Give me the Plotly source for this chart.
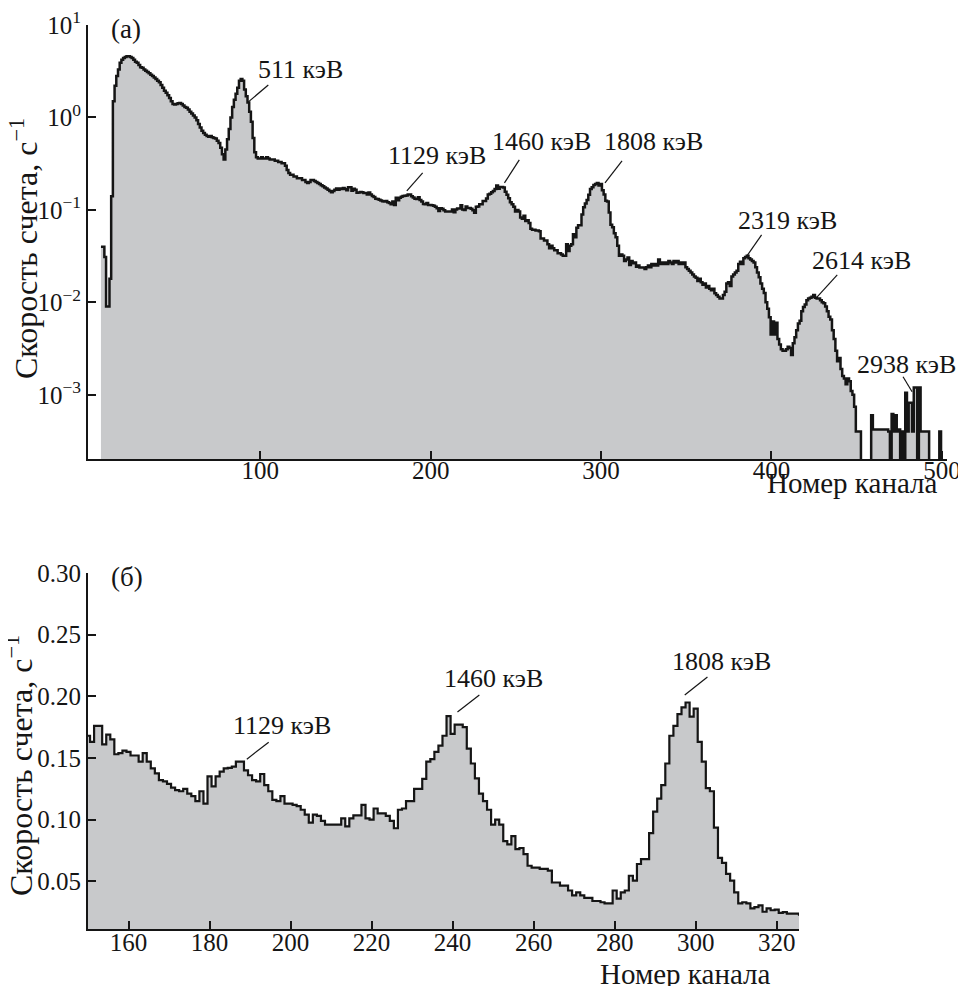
import math
import plotly.graph_objects as go

# ---------------- data (count rate, 1/s, per channel) ----------------
first_channel = 7
rate_007_099 = [
    0.040, 0.040, 0.031,                                              # 7-9
    0.009, 0.009, 0.018, 0.14, 1.5, 2.2, 2.8, 3.3, 3.9, 4.2,          # 10-19
    4.4, 4.5, 4.6, 4.6, 4.5, 4.4, 4.2, 4.0, 3.9, 3.7,                 # 20-29
    3.5, 3.45, 3.3, 3.2, 3.1, 3.0, 2.9, 2.8, 2.7, 2.6,                # 30-39
    2.5, 2.4, 2.25, 2.1, 1.95, 1.85, 1.74, 1.62, 1.5, 1.4,            # 40-49
    1.38, 1.40, 1.42, 1.43, 1.40, 1.35, 1.30, 1.27, 1.22, 1.15,       # 50-59
    1.10, 1.05, 1.0, 0.93, 0.85, 0.78, 0.72, 0.68, 0.65, 0.63,        # 60-69
    0.62, 0.63, 0.61, 0.60, 0.59, 0.56, 0.53, 0.47, 0.40, 0.35,       # 70-79
    0.45, 0.58, 0.75, 1.0, 1.3, 1.55, 1.8, 2.1, 2.5, 2.6,             # 80-89
    2.5, 2.0, 1.7, 1.45, 1.15, 0.9, 0.6, 0.42, 0.37, 0.36,            # 90-99
]
rate_100_149 = [
    0.36, 0.37, 0.36, 0.36, 0.37, 0.36, 0.35, 0.35, 0.35, 0.34,       # 100-109
    0.34, 0.33, 0.33, 0.32, 0.32, 0.30, 0.27, 0.25, 0.24, 0.24,       # 110-119
    0.23, 0.23, 0.22, 0.22, 0.22, 0.21, 0.21, 0.20, 0.195, 0.20,      # 120-129
    0.21, 0.21, 0.205, 0.20, 0.195, 0.19, 0.185, 0.18, 0.175, 0.17,   # 130-139
    0.165, 0.16, 0.155, 0.16, 0.165, 0.17, 0.165, 0.17, 0.168, 0.172, # 140-149
]
rate_150_249 = [
    0.168, 0.163, 0.176, 0.176, 0.161, 0.169, 0.165, 0.153, 0.154, 0.156,   # 150-159
    0.155, 0.152, 0.152, 0.147, 0.154, 0.147, 0.1415, 0.1375, 0.132, 0.131, # 160-169
    0.129, 0.126, 0.124, 0.123, 0.125, 0.121, 0.119, 0.115, 0.123, 0.113,   # 170-179
    0.135, 0.127, 0.135, 0.139, 0.1415, 0.142, 0.143, 0.147, 0.147, 0.140,  # 180-189
    0.136, 0.132, 0.131, 0.137, 0.128, 0.123, 0.116, 0.115, 0.119, 0.113,   # 190-199
    0.113, 0.112, 0.111, 0.108, 0.104, 0.0975, 0.104, 0.103, 0.099, 0.096,  # 200-209
    0.096, 0.096, 0.096, 0.101, 0.0945, 0.101, 0.1035, 0.1035, 0.112, 0.101,# 210-219
    0.100, 0.109, 0.105, 0.105, 0.103, 0.099, 0.093, 0.108, 0.109, 0.115,   # 220-229
    0.115, 0.125, 0.125, 0.133, 0.147, 0.149, 0.155, 0.160, 0.168, 0.184,   # 230-239
    0.1695, 0.177, 0.177, 0.175, 0.1575, 0.1455, 0.1335, 0.121, 0.115, 0.108,  # 240-249
]
rate_250_325 = [
    0.096, 0.100, 0.096, 0.0826, 0.080, 0.0866, 0.076, 0.077, 0.072, 0.0626,  # 250-259
    0.061, 0.061, 0.060, 0.060, 0.0586, 0.049, 0.049, 0.0465, 0.0465, 0.0425, # 260-269
    0.0385, 0.041, 0.0385, 0.0366, 0.0366, 0.034, 0.034, 0.033, 0.032, 0.032, # 270-279
    0.0425, 0.036, 0.041, 0.0425, 0.0545, 0.0505, 0.064, 0.068, 0.068, 0.089, # 280-289
    0.1065, 0.117, 0.128, 0.1455, 0.168, 0.176, 0.1855, 0.191, 0.195, 0.1835, # 290-299
    0.190, 0.163, 0.147, 0.1255, 0.123, 0.0935, 0.069, 0.065, 0.056, 0.0505,  # 300-309
    0.041, 0.032, 0.033, 0.032, 0.028, 0.029, 0.0305, 0.0253, 0.028, 0.0265,  # 310-319
    0.027, 0.0243, 0.025, 0.0238, 0.0238, 0.0238,                             # 320-325
]
rate_326_500 = [
    0.023, 0.024, 0.025, 0.024, 0.026, 0.025, 0.026, 0.025, 0.029, 0.026,     # 326-335
    0.027, 0.026, 0.027, 0.026, 0.028, 0.027, 0.026, 0.028, 0.027, 0.028,     # 336-345
    0.026, 0.027, 0.026, 0.027, 0.024, 0.023, 0.022, 0.021, 0.020, 0.019,     # 346-355
    0.0185, 0.017, 0.018, 0.0165, 0.0155, 0.016, 0.0145, 0.015, 0.014, 0.0135,# 356-365
    0.014, 0.0125, 0.012, 0.0115, 0.011, 0.011, 0.012, 0.013, 0.016, 0.0165,  # 366-375
    0.015, 0.019, 0.020, 0.021, 0.022, 0.026, 0.0275, 0.026, 0.030, 0.031,    # 376-385
    0.032, 0.030, 0.029, 0.028, 0.027, 0.024, 0.021, 0.0187, 0.016, 0.014,    # 386-395
    0.0126, 0.010, 0.0085, 0.0069, 0.0045, 0.0062, 0.0045, 0.0060, 0.0040, 0.0035,  # 396-405
    0.0031, 0.0030, 0.0030, 0.0031, 0.0033, 0.0032, 0.0027, 0.0036, 0.0042, 0.0050, # 406-415
    0.0059, 0.0063, 0.0080, 0.0089, 0.0095, 0.0105, 0.0110, 0.0112, 0.0115, 0.0120, # 416-425
    0.0112, 0.0110, 0.0110, 0.0105, 0.0100, 0.0098, 0.0090, 0.0080, 0.0070, 0.0065, # 426-435
    0.0050, 0.0040, 0.0030, 0.0023, 0.0025, 0.0019, 0.0016, 0.0015, 0.0013, 0.0015, # 436-445
    0.0014, 0.0011, 0.0010, 0.00074, 0.0004, 0.0004, 0.0004, 0, 0, 0,               # 446-455
    0, 0, 0, 0.0006, 0.00042, 0.00042, 0.00042, 0.00042, 0.00042, 0.00042,          # 456-465
    0.00042, 0.00042, 0.00042, 0.0004, 0, 0.00062, 0.0004, 0.0006, 0.0004, 0.00042, # 466-475
    0, 0.0004, 0, 0.00105, 0.0004, 0.00082, 0.00082, 0.0004, 0.0012, 0.0012,        # 476-485
    0, 0.0012, 0.0004, 0.0004, 0.0004, 0.0004, 0.0004, 0, 0, 0,                     # 486-495
    0, 0, 0, 0.0004, 0,                                                             # 496-500
]
rate = rate_007_099 + rate_100_149 + rate_150_249 + rate_250_325 + rate_326_500
channels = list(range(first_channel, first_channel + len(rate)))

top_xticks = [100, 200, 300, 400, 500]
top_yticks = [1e-3, 1e-2, 1e-1, 1, 10]
top_yticktext = ["10<sup>−3</sup>", "10<sup>−2</sup>", "10<sup>−1</sup>", "10<sup>0</sup>", "10<sup>1</sup>"]
bot_xticks = [160, 180, 200, 220, 240, 260, 280, 300, 320]
bot_yticks = [0.05, 0.10, 0.15, 0.20, 0.25, 0.30]
bot_yticktext = ["0.05", "0.10", "0.15", "0.20", "0.25", "0.30"]
zoom_from, zoom_to = 149, 326

peak_labels_top = ["511 кэВ", "1129 кэВ", "1460 кэВ", "1808 кэВ", "2319 кэВ", "2614 кэВ", "2938 кэВ"]
peak_labels_bot = ["1129 кэВ", "1460 кэВ", "1808 кэВ"]

# ---------------- styling / layout ----------------
FONT = "Liberation Serif, 'Times New Roman', Times, serif"
INK = "#151515"
FILL = "#c8c9cb"
TICK_FS = 25
ANN_FS = 26
YTITLE_FS = 32
XTITLE_FS = 29
PANEL_FS = 27
FLOOR = 1e-6

def step_xy(ch, vals, floor=None):
    xs = [c - 0.5 for c in ch] + [ch[-1] + 0.5]
    vs = list(vals) + [vals[-1]]
    if floor is not None:
        vs = [v if v > 0 else floor for v in vs]
    return xs, vs

fig = go.Figure()

# top panel
tx, ty = step_xy(channels, rate, FLOOR)
fig.add_trace(go.Scatter(x=[tx[0], tx[-1]], y=[FLOOR, FLOOR], mode="lines",
                         line=dict(width=0, color="rgba(0,0,0,0)"), showlegend=False,
                         hoverinfo="skip", xaxis="x", yaxis="y"))
fig.add_trace(go.Scatter(x=tx, y=ty, mode="lines", line_shape="hv",
                         line=dict(color=INK, width=2.5), fill="tonexty", fillcolor=FILL,
                         showlegend=False, xaxis="x", yaxis="y"))

# bottom panel
i0 = channels.index(zoom_from)
i1 = channels.index(zoom_to) + 1
bx, by = step_xy(channels[i0:i1], rate[i0:i1])
fig.add_trace(go.Scatter(x=bx, y=by, mode="lines", line_shape="hv",
                         line=dict(color=INK, width=2.2), fill="tozeroy", fillcolor=FILL,
                         showlegend=False, xaxis="x2", yaxis="y2"))

axis_common = dict(showgrid=False, zeroline=False, showline=True, linecolor=INK,
                   linewidth=2, ticks="inside", ticklen=8, tickwidth=1.5, tickcolor=INK,
                   tickfont=dict(family=FONT, size=TICK_FS, color=INK), mirror=False,
                   automargin=False, ticklabeloverflow="allow")

TOP_DOM = [0.5199, 1.0]
BOT_DOM = [0.0, 0.3938]
BOT_XDOM = [0.0, 0.8277]

# page has an 8 px body margin: the figure is shifted by 8 px right and down
fig.update_layout(
    width=958, height=978,
    margin=dict(l=80, r=19, t=17, b=57, autoexpand=False),
    paper_bgcolor="white", plot_bgcolor="white",
    font=dict(family=FONT, color=INK),
    showlegend=False,
    xaxis=dict(axis_common, domain=[0, 1], range=[-1.1, 503], tickmode="array",
               tickvals=top_xticks, anchor="y", ticklabelstandoff=-12),
    yaxis=dict(axis_common, domain=TOP_DOM, type="log", range=[-3.695, 1.0],
               tickmode="array", tickvals=top_yticks, ticktext=top_yticktext, anchor="x"),
    xaxis2=dict(axis_common, domain=BOT_XDOM, range=[150, 325.5], tickmode="array",
                tickvals=bot_xticks, anchor="y2", ticklabelstandoff=-10),
    yaxis2=dict(axis_common, domain=BOT_DOM, range=[0.0113, 0.30], tickmode="array",
                tickvals=bot_yticks, ticktext=bot_yticktext, anchor="x2"),
)

# peak label positions (text centre, leader start, leader end); top panel y in log10
top_label_pos = [
    (123.4, 0.514, 104.7, 0.351, 93.0, 0.168),
    (203.5, -0.416, 195.3, -0.600, 186.0, -0.795),
    (264.9, -0.265, 252.0, -0.459, 243.3, -0.708),
    (331.0, -0.265, 312.3, -0.470, 302.3, -0.708),
    (409.4, -1.119, 394.2, -1.270, 384.8, -1.519),
    (452.6, -1.551, 438.6, -1.703, 426.3, -1.951),
    (479.0, -2.676, 477.2, -2.805, 482.5, -2.968),
]
bot_label_pos = [
    (197.8, 0.1766, 194.6, 0.1628, 189.2, 0.149),
    (250.2, 0.2148, 246.6, 0.201, 241.2, 0.1872),
    (306.4, 0.2286, 302.9, 0.2156, 297.3, 0.201),
]

anns = []
shapes = []
for txt, (xc, yc, x0, y0, x1, y1) in zip(peak_labels_top, top_label_pos):
    anns.append(dict(x=xc, y=yc, xref="x", yref="y", text=txt, showarrow=False,
                     xanchor="center", yanchor="middle",
                     font=dict(family=FONT, size=ANN_FS, color=INK)))
    shapes.append(dict(type="line", xref="x", yref="y", x0=x0, y0=10 ** y0, x1=x1, y1=10 ** y1,
                       line=dict(color=INK, width=1.2)))
for txt, (xc, yc, x0, y0, x1, y1) in zip(peak_labels_bot, bot_label_pos):
    anns.append(dict(x=xc, y=yc, xref="x2", yref="y2", text=txt, showarrow=False,
                     xanchor="center", yanchor="middle",
                     font=dict(family=FONT, size=ANN_FS, color=INK)))
    shapes.append(dict(type="line", xref="x2", yref="y2", x0=x0, y0=y0, x1=x1, y1=y1,
                       line=dict(color=INK, width=1.2)))

ytitle = "Скорость счета, с<sup>−1</sup>"
anns += [
    dict(x=0, y=0.7522, xref="paper", yref="paper", text=ytitle,
         textangle=-90, showarrow=False, xanchor="center", yanchor="middle", xshift=-64,
         font=dict(family=FONT, size=YTITLE_FS, color=INK)),
    dict(x=0, y=0.1803, xref="paper", yref="paper", text=ytitle,
         textangle=-90, showarrow=False, xanchor="center", yanchor="middle", xshift=-69,
         font=dict(family=FONT, size=YTITLE_FS, color=INK)),
    dict(x=0.9919, y=0.4934, xref="paper", yref="paper", text="Номер канала",
         showarrow=False, xanchor="right", yanchor="middle",
         font=dict(family=FONT, size=XTITLE_FS, color=INK)),
    dict(x=0.7975, y=-0.0498, xref="paper", yref="paper", text="Номер канала",
         showarrow=False, xanchor="right", yanchor="middle",
         font=dict(family=FONT, size=XTITLE_FS, color=INK)),
    dict(x=0.0442, y=0.9956, xref="paper", yref="paper", text="(а)",
         showarrow=False, xanchor="center", yanchor="middle",
         font=dict(family=FONT, size=PANEL_FS, color=INK)),
    dict(x=0.0454, y=0.3894, xref="paper", yref="paper", text="(б)",
         showarrow=False, xanchor="center", yanchor="middle",
         font=dict(family=FONT, size=PANEL_FS, color=INK)),
]
fig.update_layout(annotations=anns, shapes=shapes)

fig.write_html("out.html")
